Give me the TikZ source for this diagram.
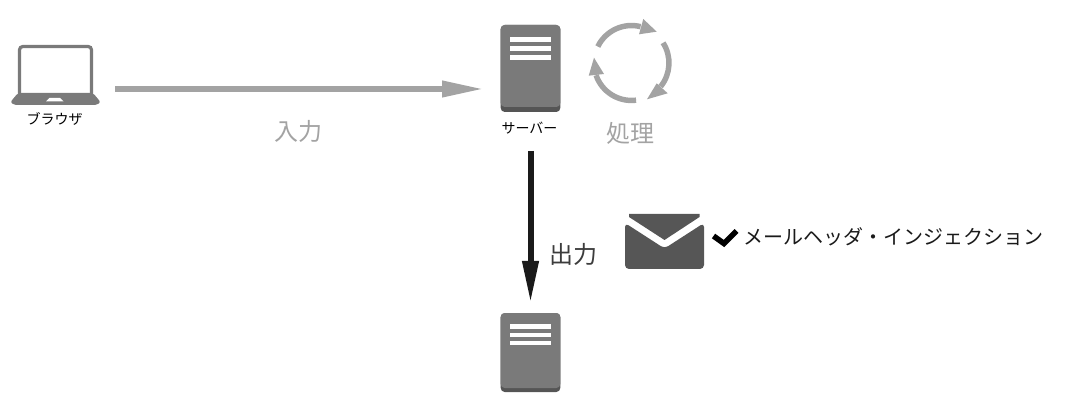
\documentclass[tikz,border=0pt]{standalone}
\usepackage{fontspec}
\setmainfont{Noto Sans CJK JP}
\usetikzlibrary{arrows.meta,calc}
\definecolor{srv}{HTML}{7A7A7A}
\definecolor{srvd}{HTML}{555555}
\definecolor{lightg}{HTML}{A3A3A3}
\definecolor{txtg}{HTML}{A3A3A3}
\definecolor{blk}{HTML}{1A1A1A}
\definecolor{mail}{HTML}{565656}
\tikzset{
  smalltxt/.style={inner sep=0pt,font=\fontsize{10.5pt}{12pt}\selectfont,text=black},
  bigtxt/.style={inner sep=0pt,font=\fontsize{18pt}{21pt}\selectfont},
  midtxt/.style={inner sep=0pt,font=\fontsize{15pt}{18pt}\selectfont,text=blk},
  cyc/.style={draw=lightg,line width=4.1pt},
  cychead/.style={fill=lightg},
  flowlight/.style={draw=lightg,line width=4.5pt,-{Triangle[length=31.5pt,width=11.5pt]}},
  flowdark/.style={draw=blk,line width=4.5pt,-{Triangle[length=31.5pt,width=11.5pt]}},
}
\begin{document}
\begin{tikzpicture}[x=0.75pt,y=-0.75pt]
\useasboundingbox (0,0) rectangle (1073,402);
% laptop
\draw[srv,line width=2.4pt,rounded corners=2.5pt,fill=white] (19.5,95) -- (19.5,46.5) -- (91.5,46.5) -- (91.5,95);
\fill[srv,rounded corners=1.5pt] (18,93) -- (93,93) -- (100.5,102) -- (97,105) -- (14,105) -- (10.5,102) -- cycle;
\fill[white] (46,101.5) -- (49.5,98) -- (60,98) -- (63.5,101.5) -- cycle;
\node[smalltxt] (browser) at (54.5,119) {ブラウザ};
% server 1
\fill[srvd,rounded corners=3pt] (500.7,25) rectangle (560.3,112);
\fill[srv,rounded corners=3pt] (500.7,25) -- (560.3,25) -- (560.3,107) -- (500.7,107) -- cycle;
\fill[white] (509.5,37) rectangle (551,42);
\fill[white] (509.5,46) rectangle (551,51);
\fill[white] (509.5,55) rectangle (551,60);
\node[smalltxt] (srvlabel) at (529.5,128) {サーバー};
% server 2
\fill[srvd,rounded corners=3pt] (500.7,313) rectangle (560.3,392);
\fill[srv,rounded corners=3pt] (500.7,313) -- (560.3,313) -- (560.3,388) -- (500.7,388) -- cycle;
\fill[white] (509.5,324) rectangle (551,329);
\fill[white] (509.5,332.5) rectangle (551,337);
\fill[white] (509.5,340.5) rectangle (551,345);
% cycle icon
\coordinate (c) at (631.5,63);
\draw[cyc] ($(c)+(154:28.1pt)$) arc[start angle=154,end angle=76,radius=28.1pt];
\fill[cychead] (643.3,19) -- (656.7,31.7) -- (639,34.3) -- cycle;
\draw[cyc] ($(c)+(32.6:28.1pt)$) arc[start angle=32.6,end angle=-39,radius=28.1pt];
\fill[cychead] (656.7,83.3) -- (667.7,93.3) -- (647,99.3) -- cycle;
\draw[cyc] ($(c)+(277:28.1pt)$) arc[start angle=277,end angle=199,radius=28.1pt];
\fill[cychead] (588.7,75.7) -- (604,74) -- (594,57.7) -- cycle;
% labels
\node[bigtxt,text=txtg] (proc) at (630.5,133) {処理};
\node[bigtxt,text=txtg] (input) at (298,131) {入力};
\node[bigtxt,text=blk!85] (output) at (573.5,254) {出力};
% arrows
\coordinate (a1) at (115,89);
\coordinate (a2) at (484,89);
\draw[flowlight] (a1) -- (a2);
\coordinate (b1) at (530.5,151);
\coordinate (b2) at (530.5,303);
\draw[flowdark] (b1) -- (b2);
% mail icon
\begin{scope}[rounded corners=3pt]
\fill[mail] (625,223) -- (664.5,248.5) -- (704,223) -- (704,269) -- (625,269) -- cycle;
\end{scope}
\fill[mail] (629,214) -- (699.5,214) -- (699.5,217) -- (664.5,240) -- (629,217) -- cycle;
% check
\draw[black,line width=4.2pt] (713.5,236) -- (724,243.5) -- (736.5,231);
\node[midtxt,anchor=west] (mailtxt) at (743.5,237) {メールヘッダ・インジェクション};
\end{tikzpicture}
\end{document}
